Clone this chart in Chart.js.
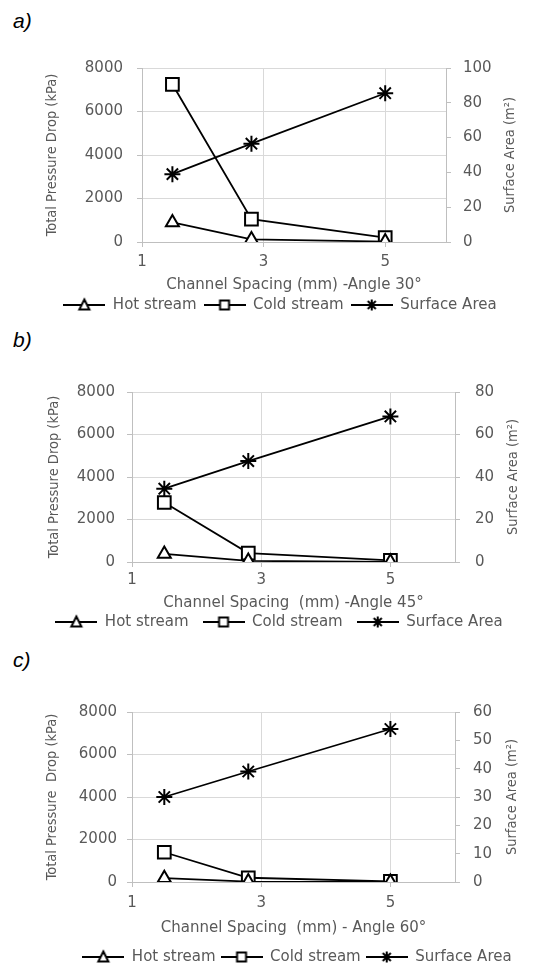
<!DOCTYPE html>
<html>
<head>
<meta charset="utf-8">
<script src="https://cdn.jsdelivr.net/npm/chart.js@4.4.1/dist/chart.umd.min.js"></script>
<style>
    html, body { margin: 0; padding: 0; width: 535px; height: 965px; overflow: hidden; background: #fff; }
    .panel { position: absolute; left: 0; }
    .tag { position: absolute; left: 13px; font: italic 21px "Liberation Sans", Arial, sans-serif; color: #000; line-height: 1; }
</style>
</head>
<body>
<div class="tag" style="top:10px">a)</div>
<div class="tag" style="top:329px">b)</div>
<div class="tag" style="top:649px">c)</div>
<div class="panel" style="top:0px"><canvas id="chartA" width="560" height="330"></canvas></div>
<div class="panel" style="top:330px"><canvas id="chartB" width="558" height="315"></canvas></div>
<div class="panel" style="top:645px"><canvas id="chartC" width="594" height="330"></canvas></div>
<script>
// channel spacing (mm) shared by all three panels
const spacing = [1.5, 2.8, 5];
const xTickValues = [1, 3, 5];
const seriesNames = ['Hot stream', 'Cold stream', 'Surface Area'];

// angle 30
const hot30 = [900, 120, 20];
const cold30 = [7250, 1050, 200];
const area30 = [39, 56.5, 85.5];
// angle 45
const hot45 = [380, 50, 10];
const cold45 = [2800, 420, 80];
const area45 = [34.5, 47.5, 68.5];
// angle 60
const hot60 = [180, 20, 5];
const cold60 = [1400, 200, 30];
const area60 = [30, 39, 54];

const textColor = '#595959';
const gridColor = '#d9d9d9';
const axisColor = '#bfbfbf';
const wideFont = 'DejaVu Sans';
const narrowFont = "'Liberation Sans Narrow', 'DejaVu Sans Condensed', sans-serif";
const narrowSize = 14.5;

// small line+marker pictures for the legend
function makeIcon(style) {
    const c = document.createElement('canvas');
    c.width = 42;
    c.height = 16;
    const g = c.getContext('2d');
    g.strokeStyle = '#000';
    g.lineWidth = 1.8;
    g.beginPath();
    g.moveTo(0, 8);
    g.lineTo(42, 8);
    g.stroke();
    g.fillStyle = '#fff';
    g.lineWidth = 2;
    g.beginPath();
    if (style === 'triangle') {
        g.moveTo(21, 2.5);
        g.lineTo(26, 12.5);
        g.lineTo(16, 12.5);
        g.closePath();
        g.fill();
        g.stroke();
    } else if (style === 'rect') {
        g.rect(16.5, 3.5, 9, 9);
        g.fill();
        g.stroke();
    } else {
        g.moveTo(15.5, 8); g.lineTo(26.5, 8);
        g.moveTo(21, 2.5); g.lineTo(21, 13.5);
        g.moveTo(17, 4); g.lineTo(25, 12);
        g.moveTo(25, 4); g.lineTo(17, 12);
        g.stroke();
    }
    return c;
}
const legendIcons = {
    triangle: makeIcon('triangle'),
    rect: makeIcon('rect'),
    star: makeIcon('star')
};

// right axis title reads bottom-to-top like the left one
const rightTitle = {
    id: 'rightTitle',
    afterDraw(chart, args, o) {
        const { ctx, chartArea } = chart;
        ctx.save();
        ctx.translate(o.x, (chartArea.top + chartArea.bottom) / 2);
        ctx.rotate(-Math.PI / 2);
        ctx.font = narrowSize + 'px ' + narrowFont;
        ctx.fillStyle = textColor;
        ctx.textAlign = 'center';
        ctx.textBaseline = 'middle';
        ctx.fillText(o.text, 0, 0);
        ctx.restore();
    }
};

function points(values) {
    return values.map((v, i) => ({ x: spacing[i], y: v }));
}

function series(label, values, style, radius, axis) {
    return {
        label: label,
        data: points(values),
        yAxisID: axis,
        borderColor: '#000',
        borderWidth: 1.8,
        pointStyle: style,
        pointRadius: radius,
        pointBorderWidth: 2,
        pointBorderColor: '#000',
        pointBackgroundColor: '#fff',
        fill: false,
        tension: 0
    };
}

function makeChart(id, p) {
    const canvas = document.getElementById(id);
    return new Chart(canvas, {
        type: 'line',
        data: {
            datasets: [
                series(seriesNames[0], p.hot, 'triangle', 7.5, 'y'),
                series(seriesNames[1], p.cold, 'rect', 9, 'y'),
                series(seriesNames[2], p.area, 'star', 8, 'y1')
            ]
        },
        options: {
            responsive: false,
            animation: false,
            layout: { padding: { top: p.top, bottom: p.padBottom, left: 0, right: 0 } },
            scales: {
                x: {
                    type: 'linear',
                    min: 1,
                    max: 6,
                    afterBuildTicks: s => { s.ticks = xTickValues.map(v => ({ value: v })); },
                    afterFit: s => { s.height = p.xHeight; },
                    grid: { color: gridColor, tickColor: axisColor, tickLength: 5 },
                    border: { color: axisColor },
                    ticks: { color: textColor, font: { family: wideFont, size: 15 }, padding: p.xTickPad, maxRotation: 0 },
                    title: {
                        display: true,
                        text: p.xTitle,
                        color: textColor,
                        font: { family: wideFont, size: 15 },
                        padding: { top: 0, bottom: p.xTitlePad }
                    }
                },
                y: {
                    position: 'left',
                    min: 0,
                    max: 8000,
                    afterFit: s => { s.width = p.left; },
                    grid: { color: gridColor, tickColor: axisColor, tickLength: 5 },
                    border: { color: axisColor },
                    ticks: {
                        stepSize: 2000,
                        color: textColor,
                        font: { family: wideFont, size: 15 },
                        padding: p.yTickPad,
                        callback: v => String(v)
                    },
                    title: {
                        display: true,
                        text: p.yTitle,
                        color: textColor,
                        font: { family: narrowFont, size: narrowSize },
                        padding: { top: p.yTitlePad, bottom: 0 }
                    }
                },
                y1: {
                    position: 'right',
                    min: 0,
                    max: p.areaMax,
                    afterFit: s => { s.width = canvas.width - p.right; },
                    grid: { drawOnChartArea: false, tickColor: axisColor, tickLength: 5 },
                    border: { color: axisColor },
                    ticks: { stepSize: p.areaStep, color: textColor, font: { family: wideFont, size: 15 }, padding: p.y1TickPad }
                }
            },
            plugins: {
                tooltip: { enabled: false },
                legend: {
                    position: 'bottom',
                    labels: {
                        usePointStyle: true,
                        pointStyleWidth: 42,
                        padding: p.legendGap,
                        color: textColor,
                        font: { family: wideFont, size: 15 },
                        generateLabels: chart => chart.data.datasets.map((ds, i) => ({
                            text: ds.label,
                            pointStyle: legendIcons[ds.pointStyle],
                            fontColor: textColor,
                            fillStyle: 'transparent',
                            strokeStyle: 'transparent',
                            lineWidth: 0,
                            hidden: false,
                            datasetIndex: i
                        }))
                    }
                },
                rightTitle: { text: 'Surface Area (m\u00b2)', x: p.rightTitleX }
            }
        },
        plugins: [rightTitle]
    });
}

makeChart('chartA', {
    hot: hot30, cold: cold30, area: area30, areaMax: 100, areaStep: 20,
    xTitle: 'Channel Spacing (mm) -Angle 30\u00b0',
    yTitle: 'Total Pressure Drop (kPa)',
    left: 142, right: 446, top: 68, padBottom: 7.5, xHeight: 48.5,
    legendGap: 7, xTickPad: 6, xTitlePad: -3.5, yTitlePad: 43.3,
    yTickPad: 14, y1TickPad: 12, rightTitleX: 510
});

makeChart('chartB', {
    hot: hot45, cold: cold45, area: area45, areaMax: 80, areaStep: 20,
    xTitle: 'Channel Spacing  (mm) -Angle 45\u00b0',
    yTitle: 'Total Pressure Drop (kPa)',
    left: 132, right: 455, top: 62, padBottom: 5.5, xHeight: 38.5,
    legendGap: 14, xTickPad: 4, xTitlePad: -11.5, yTitlePad: 45.8,
    yTickPad: 12, y1TickPad: 15, rightTitleX: 513
});

makeChart('chartC', {
    hot: hot60, cold: cold60, area: area60, areaMax: 60, areaStep: 10,
    xTitle: 'Channel Spacing  (mm) - Angle 60\u00b0',
    yTitle: 'Total Pressure  Drop (kPa)',
    left: 132, right: 455, top: 67, padBottom: 0.5, xHeight: 62.5,
    legendGap: 5, xTickPad: 7, xTitlePad: 7.5, yTitlePad: 43.8,
    yTickPad: 10, y1TickPad: 13, rightTitleX: 512
});
</script>
</body>
</html>
